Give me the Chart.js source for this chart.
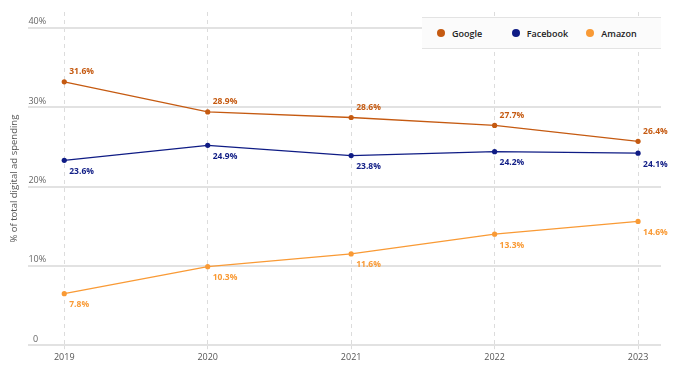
<!DOCTYPE html>
<html>
<head>
<meta charset="utf-8">
<script src="https://cdn.jsdelivr.net/npm/chart.js@4"></script>
<style>
  html, body { margin: 0; padding: 0; background: #fff; }
  #wrap { position: relative; width: 692px; height: 375px; }
  #leyenda {
    position: absolute; left: 422px; top: 17px; width: 239px; height: 32px;
    background: #fbfbfb; border-top: 1px solid #e3e3e3; border-bottom: 1px solid #e3e3e3;
    display: flex; align-items: center; padding-left: 15px; box-sizing: border-box;
    font-family: 'Open Sans', 'DejaVu Sans', sans-serif; font-size: 9px; font-weight: 600; color: #222;
  }
  .item { display: flex; align-items: center; width: 80px; }
  .item span.p { width: 8px; height: 8px; border-radius: 50%; margin-right: 7px; }
</style>
</head>
<body>
<div id="wrap">
  <canvas id="grafico"></canvas>
  <div id="leyenda"></div>
</div>
<script>
// datos
const anos = [2019, 2020, 2021, 2022, 2023];

const google = [33.2, 29.4, 28.7, 27.7, 25.7];
const facebook = [23.3, 25.2, 23.9, 24.4, 24.2];
const amazon = [6.5, 9.9, 11.5, 14.0, 15.6];

const googleTxt = ['31.6%', '28.9%', '28.6%', '27.7%', '26.4%'];
const facebookTxt = ['23.6%', '24.9%', '23.8%', '24.2%', '24.1%'];
const amazonTxt = ['7.8%', '10.3%', '11.6%', '13.3%', '14.6%'];

const yTicks = [0, 10, 20, 30, 40];

const fuente = "'Open Sans', 'DejaVu Sans', sans-serif";

function pares(vals) {
  return anos.map((a, i) => ({ x: a, y: vals[i] }));
}

// etiquetas de valor al lado de cada punto
const etiquetas = {
  id: 'etiquetas',
  afterDatasetsDraw(chart) {
    const ctx = chart.ctx;
    ctx.save();
    ctx.font = "bold 8.5px " + fuente;
    ctx.textAlign = 'left';
    ctx.textBaseline = 'middle';
    chart.data.datasets.forEach((ds, k) => {
      const meta = chart.getDatasetMeta(k);
      ctx.fillStyle = ds.borderColor;
      meta.data.forEach((p, i) => {
        ctx.fillText(ds.textos[i], p.x + 5, p.y + ds.dy);
      });
    });
    ctx.restore();
  }
};

const grafico = new Chart(document.getElementById('grafico'), {
  type: 'line',
  data: {
    datasets: [
      {
        label: 'Google',
        data: pares(google),
        textos: googleTxt,
        dy: -10,
        borderColor: '#c55a11',
        backgroundColor: '#c55a11',
        borderWidth: 1.3,
        pointRadius: 2.6,
        pointBorderWidth: 0
      }, {
        label: 'Facebook',
        data: pares(facebook),
        textos: facebookTxt,
        dy: 11,
        borderColor: '#0f1c85',
        backgroundColor: '#0f1c85',
        borderWidth: 1.3,
        pointRadius: 2.6,
        pointBorderWidth: 0
      }, {
        label: 'Amazon',
        data: pares(amazon),
        textos: amazonTxt,
        dy: 11,
        borderColor: '#f99a35',
        backgroundColor: '#f99a35',
        borderWidth: 1.3,
        pointRadius: 2.6,
        pointBorderWidth: 0
      }
    ]
  },
  options: {
    responsive: true,
    maintainAspectRatio: false,
    animation: false,
    layout: { padding: { left: 5, right: 31, top: 12, bottom: 9 } },
    plugins: {
      legend: { display: false },
      tooltip: { enabled: false }
    },
    scales: {
      x: {
        type: 'linear',
        min: 2018.75,
        max: 2023.16,
        ticks: {
          stepSize: 1,
          includeBounds: false,
          color: '#555',
          padding: 3,
          font: { family: fuente, size: 9 },
          callback: (v) => String(v)
        },
        grid: {
          color: '#dcdcdc',
          lineWidth: 1,
          tickLength: 4
        },
        border: { display: false, dash: [4, 4] }
      },
      y: {
        min: 0,
        max: 42,
        afterBuildTicks: (s) => { s.ticks = yTicks.map(v => ({ value: v })); },
        ticks: {
          mirror: true,
          padding: 0,
          labelOffset: -6,
          color: '#666',
          font: { family: fuente, size: 9 },
          callback: (v) => v === 0 ? '  0' : v + '%'
        },
        grid: {
          color: '#e2e2e2',
          lineWidth: 2,
          drawTicks: false
        },
        border: { display: false },
        title: {
          display: true,
          text: '% of total digital ad spending',
          color: '#555',
          padding: { top: 4, bottom: 8 },
          font: { family: fuente, size: 9.5 }
        }
      }
    }
  },
  plugins: [etiquetas]
});

// leyenda en html
const leyenda = document.getElementById('leyenda');
grafico.data.datasets.forEach((ds) => {
  const it = document.createElement('div');
  it.className = 'item';
  const p = document.createElement('span');
  p.className = 'p';
  p.style.background = ds.borderColor;
  const t = document.createElement('span');
  t.textContent = ds.label;
  it.appendChild(p);
  it.appendChild(t);
  leyenda.appendChild(it);
});
</script>
</body>
</html>
